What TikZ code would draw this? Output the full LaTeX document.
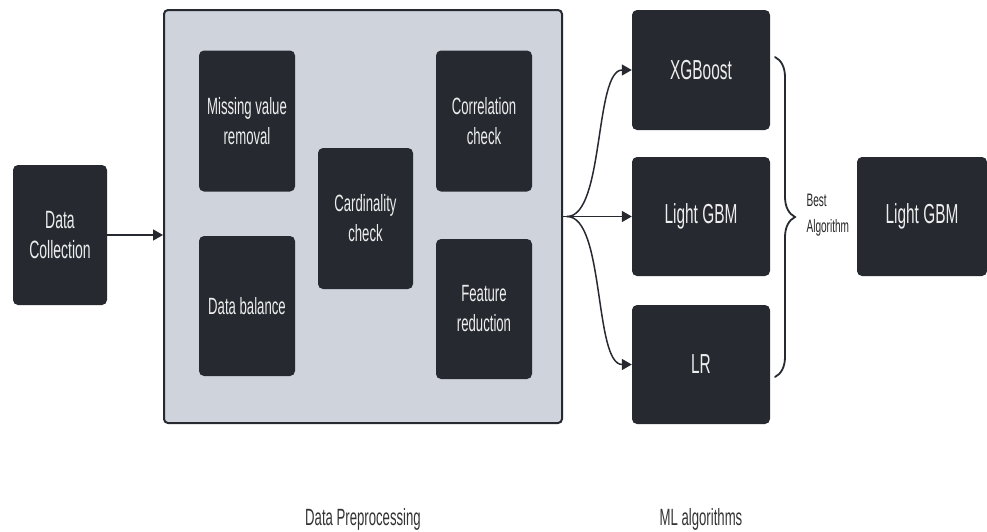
\documentclass[tikz,border=0pt]{standalone}
\usepackage{fontspec}
\setmainfont{Liberation Sans}[FakeStretch=0.56]
\usetikzlibrary{arrows.meta}
\usetikzlibrary{decorations.pathreplacing}

\definecolor{boxdark}{HTML}{262A30}
\definecolor{panelgray}{HTML}{CFD4DC}

\tikzset{
    stepbox/.style={rectangle,rounded corners=5pt,fill=boxdark,text=white!93!black,
        align=center,inner sep=0pt},
    prepbox/.style={stepbox,minimum width=96pt,minimum height=141pt,
        font=\fontsize{23.5}{30}\selectfont},
    mlbox/.style={stepbox,minimum width=138pt,minimum height=119pt,
        font=\fontsize{27.5}{32}\selectfont},
    flow/.style={line width=1.5pt,draw=boxdark,-{Triangle[length=10pt,width=11pt]}},
    caption/.style={text=black!80,font=\fontsize{23.5}{28}\selectfont}
}

\begin{document}
\begin{tikzpicture}[x=1pt,y=-1pt,line cap=round]
        \useasboundingbox (0,0) rectangle (987,531);

        % draw the input box
        \node[stepbox,minimum width=94pt,minimum height=140pt,
              font=\fontsize{25}{30}\selectfont] (collect) at (60,235) {Data\\Collection};

        % draw the preprocessing panel
        \node[rectangle,rounded corners=4pt,fill=panelgray,draw=boxdark,line width=2pt,
              minimum width=398pt,minimum height=413pt] (prep) at (363,216.5) {};

        % the steps inside the panel
        \node[prepbox] (missing) at (247,121) {Missing value\\removal};
        \node[prepbox,minimum height=140pt] (balance) at (247,306) {Data balance};
        \node[prepbox,minimum width=95pt] (cardinal) at (365.5,218.5) {Cardinality\\check};
        \node[prepbox] (correl) at (484,121) {Correlation\\check};
        \node[prepbox,minimum height=140pt] (reduce) at (484,309) {Feature\\reduction};

        % draw the ML algorithms
        \node[mlbox,minimum height=120pt] (xgb) at (701,70) {XGBoost};
        \node[mlbox] (lgbm) at (701,216.5) {Light GBM};
        \node[mlbox] (lr) at (701,364.5) {LR};

        % the chosen one
        \node[mlbox,minimum width=130pt] (best) at (922,216.5) {Light GBM};

        % draw the arrows
        \draw[flow] (collect.east) -- (collect.east -| prep.west);
        \coordinate (fork) at (567,216.5);
        \draw[line width=1.5pt,draw=boxdark] (prep.east) -- (fork);
        \draw[flow] (fork) to[out=0,in=180,looseness=0.6] (xgb.west);
        \draw[flow] (fork) -- (lgbm.west);
        \draw[flow] (fork) to[out=0,in=180,looseness=0.6] (lr.west);

        % draw the brace
        \coordinate (bracetop) at (775,57);
        \coordinate (bracebot) at (775,377);
        \draw[line width=1.8pt,draw=boxdark,decorate,
              decoration={brace,amplitude=20pt}] (bracetop) -- (bracebot);
        \node[anchor=west,align=left,text=black!85,
              font=\fontsize{18}{26}\selectfont] (bestlabel) at (803,215) {Best\\Algorithm};

        % the captions below
        \node[caption] (preplabel) at (363,519) {Data Preprocessing};
        \node[caption] (mllabel) at (701,519) {ML algorithms};
    \end{tikzpicture}
\end{document}
